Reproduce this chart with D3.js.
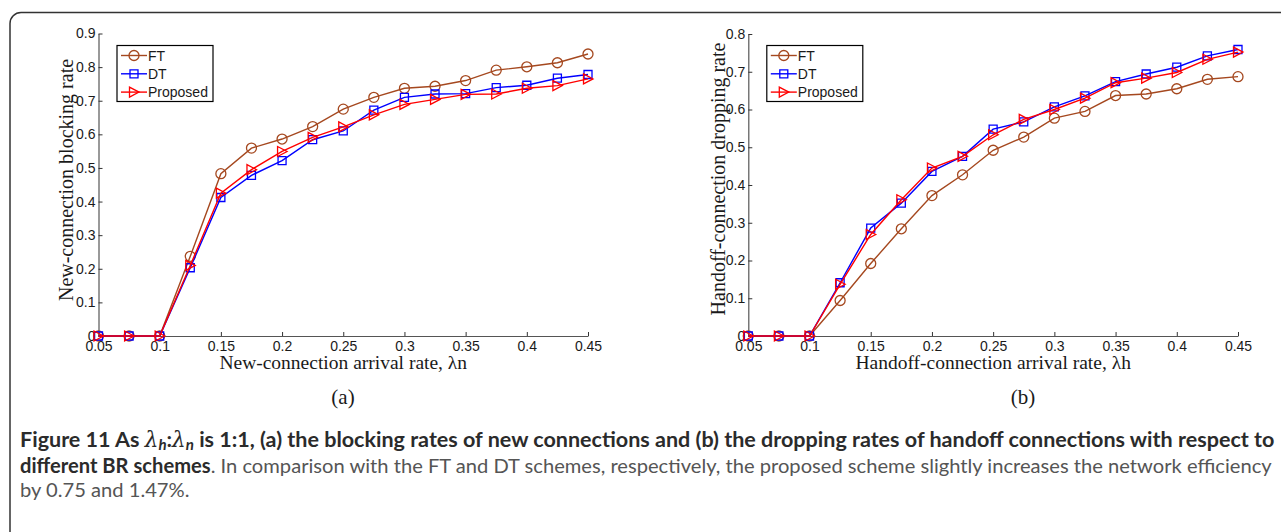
<!DOCTYPE html>
<html>
<head>
<meta charset="utf-8">
<script src="https://cdn.jsdelivr.net/npm/d3@7"></script>
<style>
  body { margin: 0; background: #fff; }
  svg { display: block; }
</style>
</head>
<body>
<div id="visualization"></div>
<script>
// x values shared by both panels
const arrivalRates = [0.05, 0.075, 0.1, 0.125, 0.15, 0.175, 0.2, 0.225, 0.25, 0.275, 0.3, 0.325, 0.35, 0.375, 0.4, 0.425, 0.45];
const xTickValues = [0.05, 0.1, 0.15, 0.2, 0.25, 0.3, 0.35, 0.4, 0.45];
const xTickLabels = ['0.05', '0.1', '0.15', '0.2', '0.25', '0.3', '0.35', '0.4', '0.45'];
const seriesNames = ['FT', 'DT', 'Proposed'];

// (a) new-connection blocking rate
const blockingFT = [0, 0, 0, 0.237, 0.483, 0.559, 0.586, 0.623, 0.675, 0.710, 0.737, 0.743, 0.760, 0.791, 0.801, 0.813, 0.839];
const blockingDT = [0, 0, 0, 0.203, 0.412, 0.478, 0.522, 0.584, 0.610, 0.672, 0.710, 0.720, 0.721, 0.739, 0.746, 0.767, 0.778];
const blockingProposed = [0, 0, 0, 0.210, 0.425, 0.495, 0.549, 0.591, 0.622, 0.658, 0.689, 0.704, 0.719, 0.720, 0.737, 0.745, 0.765];
const blockingTicks = [0, 0.1, 0.2, 0.3, 0.4, 0.5, 0.6, 0.7, 0.8, 0.9];

// (b) handoff-connection dropping rate
const droppingFT = [0, 0, 0, 0.094, 0.192, 0.284, 0.372, 0.427, 0.492, 0.527, 0.577, 0.595, 0.637, 0.641, 0.655, 0.680, 0.687];
const droppingDT = [0, 0, 0, 0.141, 0.286, 0.352, 0.436, 0.476, 0.548, 0.567, 0.607, 0.636, 0.674, 0.694, 0.712, 0.742, 0.759];
const droppingProposed = [0, 0, 0, 0.137, 0.269, 0.361, 0.445, 0.476, 0.533, 0.574, 0.600, 0.630, 0.671, 0.683, 0.698, 0.733, 0.752];
const droppingTicks = [0, 0.1, 0.2, 0.3, 0.4, 0.5, 0.6, 0.7, 0.8];

const width = 1281;
const height = 532;

const svg = d3.select('#visualization')
    .append('svg')
    .attr('width', width)
    .attr('height', height);

svg.append('rect')
    .attr('width', width)
    .attr('height', height)
    .attr('fill', '#fff');

// frame of the figure box (runs off the right and bottom edges)
svg.append('rect')
    .attr('x', 10)
    .attr('y', 12.5)
    .attr('width', 1400)
    .attr('height', 700)
    .attr('rx', 11)
    .attr('fill', 'none')
    .attr('stroke', '#333')
    .attr('stroke-width', 1.5);

const colors = { FT: '#a5481f', DT: '#0000ff', Proposed: '#ff0000' };

const markerPath = {
    FT: d3.symbol().type(d3.symbolCircle).size(Math.PI * 25)(),
    DT: 'M-4,-4H4V4H-4Z',
    Proposed: 'M-4.5,-5L5,0L-4.5,5Z'
};

const serif = '"Liberation Serif", "Times New Roman", serif';
const sans = '"Liberation Sans", Arial, sans-serif';

function drawPanel(cfg) {
    const x = d3.scaleLinear().domain([0.05, 0.45]).range([cfg.left, cfg.right]);
    const y = d3.scaleLinear().domain([0, cfg.yMax]).range([cfg.bottom, cfg.top]);

    const g = svg.append('g');

    // x axis (ticks point inward)
    const xAxis = g.append('g')
        .attr('transform', `translate(0,${cfg.bottom})`)
        .call(d3.axisBottom(x)
            .tickValues(xTickValues)
            .tickFormat((d, i) => xTickLabels[i])
            .tickSizeInner(-4)
            .tickSizeOuter(0)
            .tickPadding(5));

    const yAxis = g.append('g')
        .attr('transform', `translate(${cfg.left},0)`)
        .call(d3.axisLeft(y)
            .tickValues(cfg.yTicks)
            .tickFormat(d3.format('~g'))
            .tickSizeInner(-4)
            .tickSizeOuter(0)
            .tickPadding(3));

    [xAxis, yAxis].forEach(a => {
        a.selectAll('path.domain').attr('stroke', '#555').attr('stroke-width', 1.2);
        a.selectAll('.tick line').attr('stroke', '#333');
        a.selectAll('text')
            .attr('fill', '#1a1a1a')
            .style('font-family', sans)
            .style('font-size', '14px');
    });

    // series
    const line = d3.line()
        .x((d, i) => x(arrivalRates[i]))
        .y(d => y(d));

    cfg.series.forEach((values, k) => {
        const name = seriesNames[k];
        g.append('path')
            .datum(values)
            .attr('d', line)
            .attr('fill', 'none')
            .attr('stroke', colors[name])
            .attr('stroke-width', 1.4);

        g.append('g')
            .selectAll('path')
            .data(values)
            .join('path')
            .attr('transform', (d, i) => `translate(${x(arrivalRates[i])},${y(d)})`)
            .attr('d', markerPath[name])
            .attr('fill', 'none')
            .attr('stroke', colors[name])
            .attr('stroke-width', 1.3);
    });

    // axis titles
    g.append('text')
        .attr('x', (cfg.left + cfg.right) / 2)
        .attr('y', cfg.bottom + 33)
        .attr('text-anchor', 'middle')
        .style('font-family', serif)
        .style('font-size', '19.5px')
        .attr('fill', '#1a1a1a')
        .text(cfg.xLabel);

    g.append('text')
        .attr('transform', `translate(${cfg.yLabelX},${cfg.yLabelY}) rotate(-90)`)
        .attr('text-anchor', 'middle')
        .attr('dy', '0.35em')
        .style('font-family', serif)
        .style('font-size', '20px')
        .attr('fill', '#1a1a1a')
        .text(cfg.yLabel);

    // legend
    const lg = g.append('g')
        .attr('transform', `translate(${cfg.left + 18.5},45.5)`);

    lg.append('rect')
        .attr('width', 96)
        .attr('height', 56)
        .attr('fill', '#fff')
        .attr('stroke', '#000')
        .attr('stroke-width', 1.2);

    seriesNames.forEach((name, i) => {
        const row = lg.append('g')
            .attr('transform', `translate(0,${10 + i * 18.3})`);
        row.append('line')
            .attr('x1', 4).attr('x2', 30)
            .attr('stroke', colors[name])
            .attr('stroke-width', 1.4);
        row.append('path')
            .attr('transform', 'translate(17,0)')
            .attr('d', markerPath[name])
            .attr('fill', 'none')
            .attr('stroke', colors[name])
            .attr('stroke-width', 1.3);
        row.append('text')
            .attr('x', 31)
            .attr('dy', '0.36em')
            .style('font-family', sans)
            .style('font-size', '14px')
            .attr('fill', '#1a1a1a')
            .text(name);
    });

    // sub-figure tag
    g.append('text')
        .attr('x', cfg.tagX)
        .attr('y', 404)
        .attr('text-anchor', 'middle')
        .style('font-family', serif)
        .style('font-size', '21px')
        .attr('fill', '#1a1a1a')
        .text(cfg.tag);
}

drawPanel({
    left: 98.5, right: 588, top: 33.5, bottom: 336,
    yMax: 0.9, yTicks: blockingTicks,
    series: [blockingFT, blockingDT, blockingProposed],
    xLabel: 'New-connection arrival rate, λn',
    yLabel: 'New-connection blocking rate',
    yLabelX: 66, yLabelY: 180,
    tag: '(a)', tagX: 343
});

drawPanel({
    left: 748.3, right: 1238, top: 34, bottom: 336,
    yMax: 0.8, yTicks: droppingTicks,
    series: [droppingFT, droppingDT, droppingProposed],
    xLabel: 'Handoff-connection arrival rate, λh',
    yLabel: 'Handoff-connection dropping rate',
    yLabelX: 718, yLabelY: 179,
    tag: '(b)', tagX: 1023
});

// caption
const caption = svg.append('g')
    .style('font-family', 'Lato, "Open Sans", sans-serif');

function fitLine(text, target) {
    const w = text.node().getComputedTextLength();
    const fs = parseFloat(text.style('font-size'));
    text.style('font-size', (fs * target / w).toFixed(2) + 'px');
}

const line1 = caption.append('text')
    .attr('x', 20).attr('y', 447)
    .style('font-size', '17px')
    .style('font-weight', 'bold')
    .attr('fill', '#2b2b2b');
line1.append('tspan').text('Figure 11 As ');
line1.append('tspan').style('font-style', 'italic').style('font-family', '"DejaVu Serif", serif').style('font-weight', 'normal').text('λ');
line1.append('tspan').style('font-style', 'italic').style('font-size', '0.7em').attr('dy', 3).text('h');
line1.append('tspan').attr('dy', -3).text(':');
line1.append('tspan').style('font-style', 'italic').style('font-family', '"DejaVu Serif", serif').style('font-weight', 'normal').text('λ');
line1.append('tspan').style('font-style', 'italic').style('font-size', '0.7em').attr('dy', 3).text('n');
line1.append('tspan').attr('dy', -3).text(' is 1:1, (a) the blocking rates of new connections and (b) the dropping rates of handoff connections with respect to');
fitLine(line1, 1255);

const line2 = caption.append('text')
    .attr('x', 20).attr('y', 473)
    .style('font-size', '17px');
line2.append('tspan').style('font-weight', 'bold').attr('fill', '#2b2b2b').text('different BR schemes');
line2.append('tspan').attr('fill', '#555').text('. In comparison with the FT and DT schemes, respectively, the proposed scheme slightly increases the network efficiency');
fitLine(line2, 1252);

caption.append('text')
    .attr('x', 20).attr('y', 497)
    .style('font-size', line2.style('font-size'))
    .attr('fill', '#555')
    .text('by 0.75 and 1.47%.');
</script>
</body>
</html>
